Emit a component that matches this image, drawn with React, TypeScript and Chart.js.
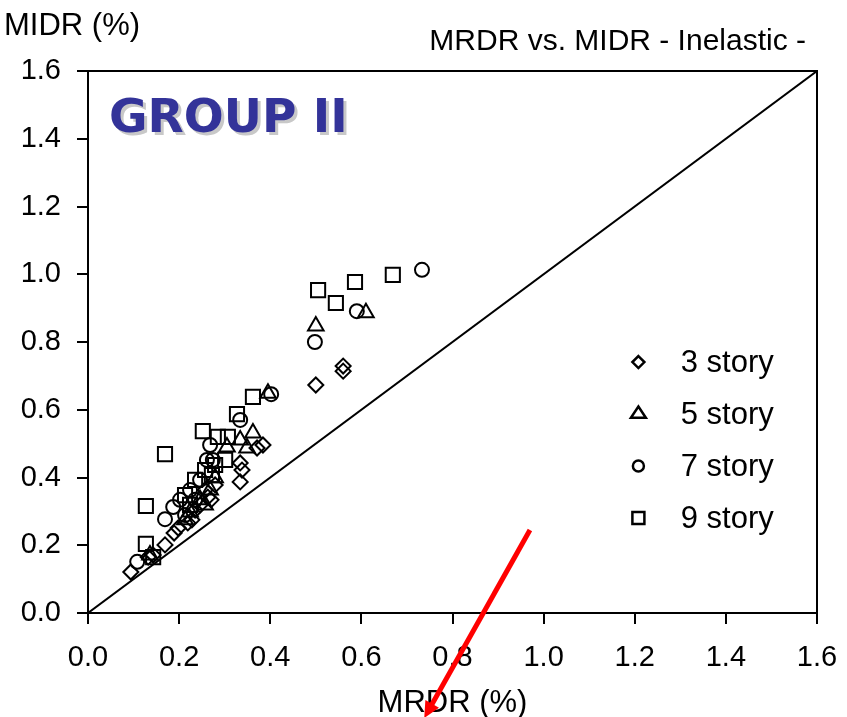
import React, { useEffect, useRef } from "react";
import { Chart, registerables } from "chart.js";

Chart.register(...registerables);

// 3 story (diamonds)
const story3X = [0.094, 0.132, 0.143, 0.169, 0.189, 0.198, 0.219, 0.228, 0.235, 0.246, 0.257, 0.263, 0.27, 0.279, 0.334, 0.338, 0.334, 0.371, 0.384, 0.5, 0.56, 0.56];
const story3Y = [0.121, 0.165, 0.171, 0.201, 0.236, 0.251, 0.266, 0.275, 0.304, 0.319, 0.363, 0.342, 0.334, 0.378, 0.387, 0.422, 0.443, 0.487, 0.496, 0.673, 0.729, 0.714];
// 5 story (triangles)
const story5X = [0.136, 0.213, 0.224, 0.246, 0.257, 0.268, 0.279, 0.305, 0.334, 0.349, 0.362, 0.395, 0.5, 0.61];
const story5Y = [0.171, 0.275, 0.298, 0.334, 0.319, 0.363, 0.399, 0.49, 0.511, 0.487, 0.531, 0.649, 0.847, 0.886];
// 7 story (circles)
const story7X = [0.108, 0.169, 0.187, 0.202, 0.213, 0.224, 0.235, 0.246, 0.261, 0.274, 0.268, 0.334, 0.402, 0.498, 0.59, 0.733];
const story7Y = [0.151, 0.277, 0.313, 0.334, 0.289, 0.363, 0.334, 0.393, 0.452, 0.452, 0.496, 0.57, 0.646, 0.8, 0.891, 1.013];
// 9 story (squares)
const story9X = [0.127, 0.143, 0.127, 0.169, 0.213, 0.224, 0.235, 0.257, 0.272, 0.279, 0.252, 0.285, 0.307, 0.301, 0.327, 0.362, 0.505, 0.544, 0.586, 0.669];
const story9Y = [0.204, 0.165, 0.316, 0.469, 0.348, 0.319, 0.393, 0.422, 0.407, 0.437, 0.537, 0.52, 0.52, 0.452, 0.587, 0.638, 0.953, 0.915, 0.977, 0.998];

const equalityLine = [0, 1.6];
const tickValues = [0, 0.2, 0.4, 0.6, 0.8, 1.0, 1.2, 1.4, 1.6];
const legendLabels = ["3 story", "5 story", "7 story", "9 story"];
const arrowFrom = { x: 0.97, y: 0.245 };
const arrowTo = { x: 0.738, y: -0.31 };

const toPts = (xs: number[], ys: number[]) => xs.map((x, i) => ({ x, y: ys[i] }));

const FONT = "'Liberation Sans', Arial, sans-serif";

function drawMarker(ctx: CanvasRenderingContext2D, style: string, r: number, x: number, y: number) {
  ctx.beginPath();
  if (style === "rectRot") {
    ctx.moveTo(x, y - r);
    ctx.lineTo(x + r, y);
    ctx.lineTo(x, y + r);
    ctx.lineTo(x - r, y);
    ctx.closePath();
  } else if (style === "triangle") {
    const h = r * 1.5;
    const w = r * Math.sqrt(3) / 2 * 1.15;
    ctx.moveTo(x, y - r);
    ctx.lineTo(x + w, y + h - r);
    ctx.lineTo(x - w, y + h - r);
    ctx.closePath();
  } else if (style === "circle") {
    ctx.arc(x, y, r, 0, Math.PI * 2);
  } else {
    ctx.rect(x - r, y - r, 2 * r, 2 * r);
  }
  ctx.stroke();
}

const overlayPlugin = {
  id: "overlay",
  afterDraw(chart: any) {
    const ctx = chart.ctx;
    const ca = chart.chartArea;
    const xs = chart.scales.x;
    const ys = chart.scales.y;
    ctx.save();
    // frame
    ctx.strokeStyle = "#000";
    ctx.lineWidth = 2;
    ctx.strokeRect(ca.left, ca.top, ca.right - ca.left, ca.bottom - ca.top);

    // texts
    ctx.fillStyle = "#000";
    ctx.font = `31px ${FONT}`;
    ctx.textBaseline = "alphabetic";
    ctx.textAlign = "left";
    ctx.fillText("MIDR (%)", 4, 35);
    ctx.textAlign = "center";
    ctx.fillText("MRDR (%)", (ca.left + ca.right) / 2, 712);
    ctx.font = `30px ${FONT}`;
    ctx.textAlign = "right";
    ctx.fillText("MRDR vs. MIDR - Inelastic -", 806, 50);

    // GROUP II
    ctx.font = `bold 47px 'DejaVu Sans', Verdana, sans-serif`;
    ctx.textAlign = "left";
    ctx.fillStyle = "#c8c8c8";
    ctx.fillText("GROUP II", 112, 135);
    ctx.fillStyle = "#333399";
    ctx.fillText("GROUP II", 109, 132);

    // legend
    const styles = ["rectRot", "triangle", "circle", "rect"];
    const radii = [6, 7.5, 5.5, 6];
    const mx = ca.left + (ca.right - ca.left) * 0.755;
    const tx = ca.left + (ca.right - ca.left) * 0.813;
    const y0 = ca.top + (ca.bottom - ca.top) * 0.537;
    const dy = 52;
    legendLabels.forEach((lab, i) => {
      const y = y0 + i * dy;
      ctx.strokeStyle = "#000";
      ctx.lineWidth = 2.5;
      drawMarker(ctx, styles[i], radii[i], mx, y);
      ctx.fillStyle = "#000";
      ctx.font = `31px ${FONT}`;
      ctx.textAlign = "left";
      ctx.textBaseline = "middle";
      ctx.fillText(lab, tx, y + 1);
    });

    // red arrow
    const x1 = xs.getPixelForValue(arrowFrom.x);
    const y1 = ys.getPixelForValue(arrowFrom.y);
    const x2 = xs.getPixelForValue(arrowTo.x);
    const y2 = ys.getPixelForValue(arrowTo.y);
    const ang = Math.atan2(y2 - y1, x2 - x1);
    const head = 18;
    ctx.strokeStyle = "#ff0000";
    ctx.fillStyle = "#ff0000";
    ctx.lineWidth = 5;
    ctx.beginPath();
    ctx.moveTo(x1, y1);
    ctx.lineTo(x2 - Math.cos(ang) * head * 0.8, y2 - Math.sin(ang) * head * 0.8);
    ctx.stroke();
    ctx.beginPath();
    ctx.moveTo(x2, y2);
    ctx.lineTo(x2 - head * Math.cos(ang - 0.45), y2 - head * Math.sin(ang - 0.45));
    ctx.lineTo(x2 - head * Math.cos(ang + 0.45), y2 - head * Math.sin(ang + 0.45));
    ctx.closePath();
    ctx.fill();
    ctx.restore();
  },
};

export default function App() {
  const ref = useRef<HTMLCanvasElement>(null);
  useEffect(() => {
    document.body.style.margin = "0";
    const canvas = ref.current!;
    const common = {
      showLine: false,
      borderColor: "#000",
      backgroundColor: "rgba(0,0,0,0)",
      borderWidth: 2,
      pointBorderWidth: 2,
    };
    const chart = new Chart(canvas, {
      type: "scatter",
      data: {
        datasets: [
          { ...common, label: legendLabels[0], data: toPts(story3X, story3Y), pointStyle: "rectRot", pointRadius: 7.5 },
          { ...common, label: legendLabels[1], data: toPts(story5X, story5Y), pointStyle: "triangle", pointRadius: 9 },
          { ...common, label: legendLabels[2], data: toPts(story7X, story7Y), pointStyle: "circle", pointRadius: 7 },
          { ...common, label: legendLabels[3], data: toPts(story9X, story9Y), pointStyle: "rect", pointRadius: 10 },
          {
            type: "line",
            label: "equality",
            data: toPts(equalityLine, equalityLine),
            showLine: true,
            borderColor: "#000",
            borderWidth: 2,
            pointRadius: 0,
            fill: false,
          } as any,
        ],
      },
      options: {
        responsive: false,
        animation: false,
        layout: { padding: { top: 71, right: 30, left: 0, bottom: 0 } },
        plugins: { legend: { display: false }, tooltip: { enabled: false }, title: { display: false } },
        scales: {
          x: {
            type: "linear",
            min: 0,
            max: 1.6,
            afterBuildTicks: (axis: any) => { axis.ticks = tickValues.map((v) => ({ value: v })); },
            afterFit: (axis: any) => { axis.height = 104; axis.paddingLeft = 0; axis.paddingRight = 0; },
            grid: { display: true, drawOnChartArea: false, drawTicks: true, tickLength: 11, color: "#000", lineWidth: 2 },
            border: { display: true, color: "#000", width: 2 },
            ticks: { color: "#000", font: { family: FONT, size: 29 }, padding: 17, maxRotation: 0, callback: (v: any) => Number(v).toFixed(1) },
          },
          y: {
            type: "linear",
            min: 0,
            max: 1.6,
            afterBuildTicks: (axis: any) => { axis.ticks = tickValues.map((v) => ({ value: v })); },
            afterFit: (axis: any) => { axis.width = 88; axis.paddingTop = 0; axis.paddingBottom = 0; },
            grid: { display: true, drawOnChartArea: false, drawTicks: true, tickLength: 11, color: "#000", lineWidth: 2 },
            border: { display: true, color: "#000", width: 2 },
            ticks: { color: "#000", font: { family: FONT, size: 29 }, padding: 16, callback: (v: any) => Number(v).toFixed(1) },
          },
        },
      },
      plugins: [overlayPlugin],
    });
    return () => chart.destroy();
  }, []);
  return <canvas ref={ref} width={847} height={717} style={{ display: "block" }} />;
}
